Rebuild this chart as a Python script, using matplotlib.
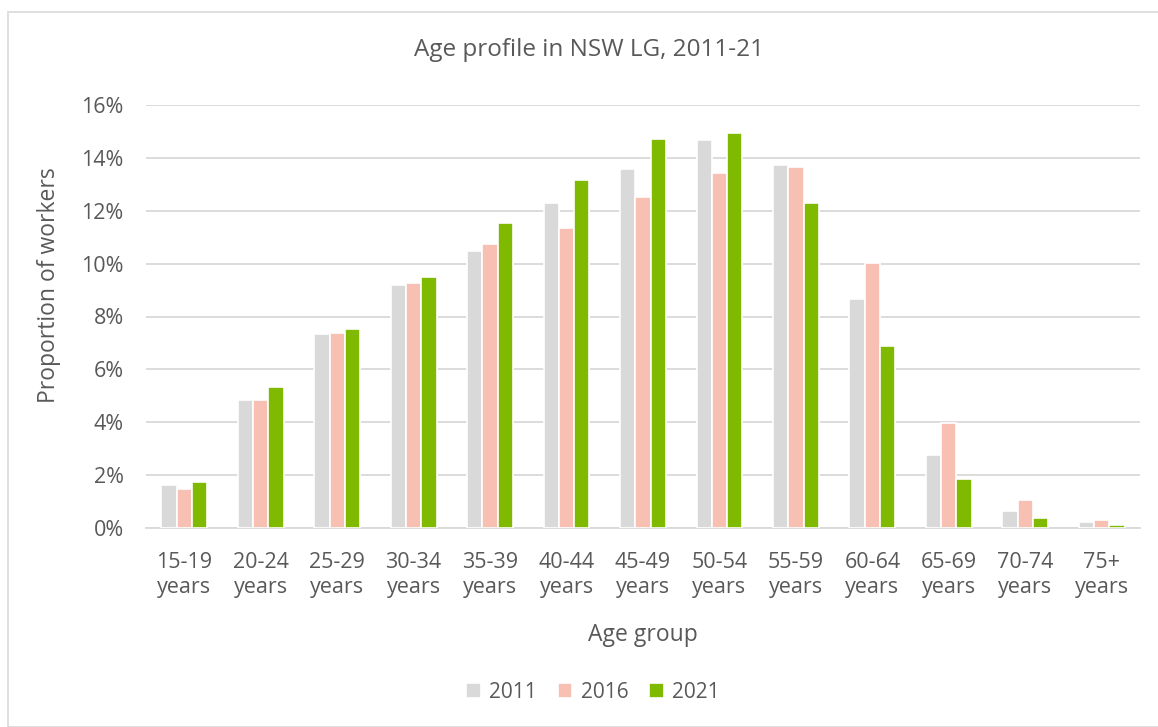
"""
Age profile in NSW LG, 2011-21 - grouped bar chart
"""

from matplotlib import pyplot as plt
from matplotlib.patches import Rectangle
import numpy as np

groups = ['15-19\nyears', '20-24\nyears', '25-29\nyears', '30-34\nyears', '35-39\nyears',
          '40-44\nyears', '45-49\nyears', '50-54\nyears', '55-59\nyears', '60-64\nyears',
          '65-69\nyears', '70-74\nyears', '75+\nyears']
y2011 = [1.63, 4.84, 7.34, 9.19, 10.48, 12.29, 13.58, 14.67, 13.73, 8.66, 2.76, 0.64, 0.23]
y2016 = [1.47, 4.84, 7.37, 9.27, 10.74, 11.35, 12.52, 13.43, 13.65, 10.02, 3.97, 1.06, 0.30]
y2021 = [1.74, 5.33, 7.53, 9.49, 11.54, 13.16, 14.71, 14.94, 12.29, 6.88, 1.85, 0.38, 0.11]
years = ['2011', '2016', '2021']
colors = ['#D9D9D9', '#F8BFB3', '#7FBA00']

plt.rcParams['font.family'] = ['Open Sans', 'DejaVu Sans']
txt = '#595959'

fig = plt.figure(figsize=(11.58, 7.27), dpi=100)
ax = fig.add_axes([146 / 1158, 1 - 528 / 727, 994 / 1158, 423 / 727])

# light frame round the whole chart
fig.patches.append(Rectangle((8 / 1158, 0), 1.2, 1 - 12 / 727, transform=fig.transFigure,
                             fill=False, edgecolor='#D9D9D9', linewidth=1.2))

x = np.arange(len(groups))
w = 0.2
for i, (vals, c, lab) in enumerate(zip([y2011, y2016, y2021], colors, years)):
    ax.bar(x + (i - 1) * w, vals, width=w, color=c, edgecolor='white', linewidth=1.2,
           label=lab, zorder=3)

ax.set_xlim(-0.5, len(groups) - 0.5)
ax.set_ylim(0, 16)
ax.set_yticks(np.arange(0, 17, 2))
ax.set_yticklabels([f'{v}%' for v in range(0, 17, 2)])
ax.set_xticks(x)
ax.set_xticklabels(groups, linespacing=1.3)
ax.grid(axis='y', color='#D9D9D9', linewidth=1.3, zorder=0)
for s in ['top', 'right', 'left']:
    ax.spines[s].set_visible(False)
ax.spines['bottom'].set_color('#D9D9D9')
ax.spines['bottom'].set_linewidth(1.3)
ax.tick_params(length=0, colors=txt, labelsize=15.5)
ax.tick_params(axis='x', pad=17)
ax.tick_params(axis='y', pad=16)

ax.set_xlabel('Age group', color=txt, fontsize=16.5, labelpad=18)
ax.set_ylabel('Proportion of workers', color=txt, fontsize=16.5)
ax.yaxis.set_label_coords(-0.086, (528 - 285) / 423)
fig.text(589 / 1158, 1 - 50 / 727, 'Age profile in NSW LG, 2011-21', color=txt,
         fontsize=17.5, ha='center', va='center')

ax.legend(loc='center', bbox_to_anchor=(593 / 1158, 1 - 692 / 727),
          bbox_transform=fig.transFigure, ncol=3, frameon=False, fontsize=15,
          labelcolor=txt, handlelength=0.7, handleheight=0.7, columnspacing=1.0,
          handletextpad=0.4)

fig.savefig('out.png', dpi=100)
